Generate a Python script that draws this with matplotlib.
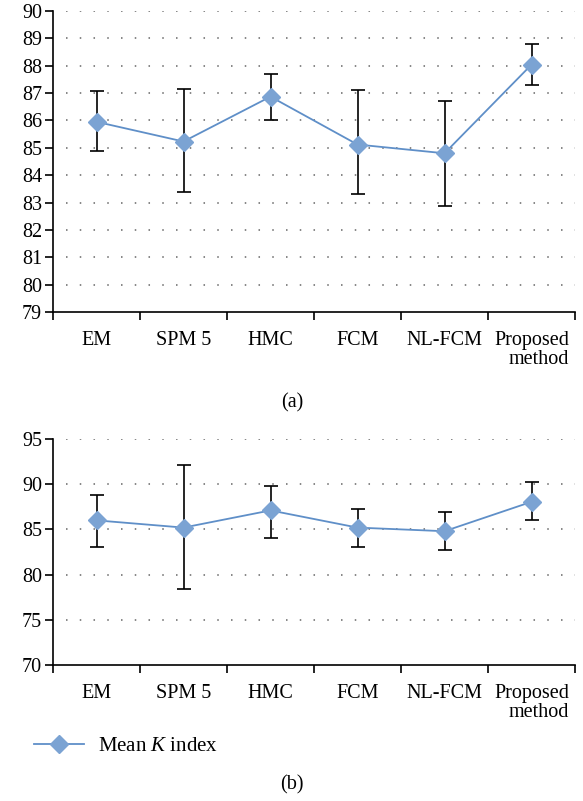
import matplotlib
matplotlib.use("Agg")
import matplotlib.pyplot as plt
from matplotlib.lines import Line2D

plt.rcParams["font.family"] = ["Liberation Serif", "DejaVu Serif"]
plt.rcParams["mathtext.fontset"] = "custom"
plt.rcParams["mathtext.rm"] = "Liberation Serif"
plt.rcParams["mathtext.it"] = "Liberation Serif:italic"

methods = ["EM", "SPM 5", "HMC", "FCM", "NL-FCM", "Proposed\nmethod"]

# panel (a)
mean_a = [85.95, 85.23, 86.87, 85.12, 84.8, 88.04]
upper_a = [87.09, 87.14, 87.70, 87.12, 86.70, 88.81]
lower_a = [84.87, 83.40, 86.01, 83.30, 82.89, 87.29]

# panel (b)
mean_b = [86.0, 85.2, 87.1, 85.2, 84.8, 88.05]
upper_b = [88.85, 92.1, 89.75, 87.3, 86.9, 90.2]
lower_b = [83.1, 78.4, 84.1, 83.1, 82.7, 86.0]

LINE = "#5f8fc8"
FACE = "#7ba3d3"
FS = 14.5


def draw_panel(ax, mean, upper, lower, ylim, step):
    x = list(range(len(methods)))
    err = [[m - lo for m, lo in zip(mean, lower)],
           [hi - m for m, hi in zip(mean, upper)]]
    ax.errorbar(x, mean, yerr=err, fmt="none", ecolor="black",
                elinewidth=1.2, capsize=5, capthick=1.2, zorder=2)
    ax.plot(x, mean, color=LINE, linewidth=1.3, marker="D", markersize=9,
            markerfacecolor=FACE, markeredgecolor=FACE, zorder=3)
    ax.set_xlim(-0.5, len(methods) - 0.5)
    ax.set_ylim(*ylim)
    yt = list(range(ylim[0], ylim[1] + 1, step))
    ax.set_yticks(yt)
    for y in yt[1:]:
        ax.plot([-0.35, len(methods) - 0.5], [y, y], linestyle=(0, (1, 8)),
                color="#666666", linewidth=1.1, zorder=1)
    ax.set_xticks(x)
    labels = ax.set_xticklabels(methods, fontsize=FS, linespacing=0.95)
    labels[-1].set_multialignment("right")
    ax.set_xticks([i - 0.5 for i in range(len(methods) + 1)], minor=True)
    ax.tick_params(axis="x", which="major", length=0, pad=14)
    ax.tick_params(axis="x", which="minor", length=6, width=1.2, direction="out")
    ax.tick_params(axis="y", labelsize=FS, length=6, width=1.2, direction="out", pad=2)
    for s in ("top", "right"):
        ax.spines[s].set_visible(False)
    for s in ("left", "bottom"):
        ax.spines[s].set_linewidth(1.2)


fig = plt.figure(figsize=(5.83, 8.01), dpi=100)
W, H = 583, 801

ax1 = fig.add_axes([53 / W, 1 - 312 / H, 522 / W, 301 / H])
draw_panel(ax1, mean_a, upper_a, lower_a, (79, 90), 1)

ax2 = fig.add_axes([53 / W, 1 - 665 / H, 522 / W, 226 / H])
draw_panel(ax2, mean_b, upper_b, lower_b, (70, 95), 5)

fig.text(292 / W, 1 - 403 / H, "(a)", ha="center", va="center", fontsize=FS)
fig.text(292 / W, 1 - 785 / H, "(b)", ha="center", va="center", fontsize=FS)

handle = Line2D([], [], color=LINE, linewidth=1.3, marker="D", markersize=9,
                markerfacecolor=FACE, markeredgecolor=FACE)
fig.legend([handle], ["Mean $K$ index"], loc="center left",
           bbox_to_anchor=(15 / W, 1 - 746 / H), frameon=False, fontsize=FS + 0.5,
           handlelength=2.4, handletextpad=0.7)

fig.savefig("out.png", dpi=100)
